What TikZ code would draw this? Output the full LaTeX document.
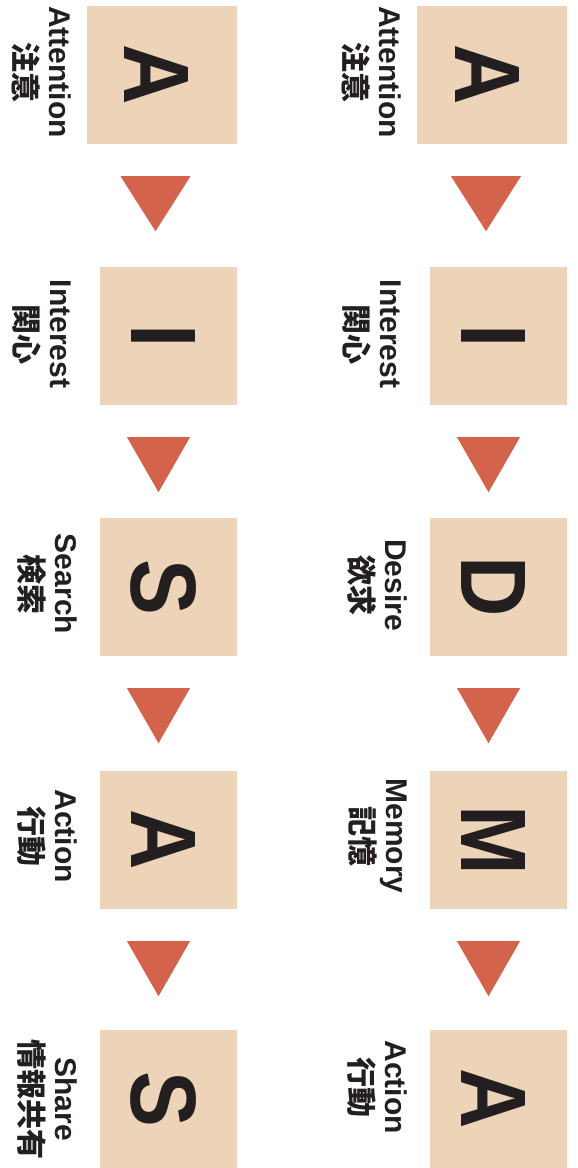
\documentclass[tikz,border=0pt]{standalone}
\usepackage{fontspec}
\setmainfont{Liberation Sans}
\newfontfamily\cjk{Noto Sans CJK JP}
\newfontfamily\bigfont[FakeStretch=0.9]{Liberation Sans}
\usetikzlibrary{positioning,shapes.geometric}
\definecolor{peach}{HTML}{EDD3B8}
\definecolor{rust}{HTML}{D4634B}
\definecolor{ink}{HTML}{231F20}
\tikzset{
  card/.style={draw=none, fill=peach, inner sep=0pt, minimum width=137pt, minimum height=138pt},
  wcard/.style={card, minimum width=150pt},
  letter/.style={rotate=-90, inner sep=0pt, text=ink, font=\bigfont\bfseries\fontsize{93pt}{93pt}\selectfont},
  lab/.style={rotate=-90, anchor=north, inner sep=0pt, align=center, text=ink,
    font=\bfseries\fontsize{30pt}{35pt}\selectfont},
  tri/.style={isosceles triangle, isosceles triangle stretches, fill=rust, draw=none, rotate=-90,
    anchor=apex, inner sep=0pt, outer sep=0pt, minimum width=63pt, minimum height=55pt},
  wtri/.style={tri, minimum width=70pt},   % 一段目だけ少し幅広
}
\newcommand{\jp}[1]{{\cjk #1}}

\begin{document}
\begin{tikzpicture}[x=1pt, y=-1pt]
  \useasboundingbox (0,0) rectangle (578,1168);
  % AIDMA (right)
  \node[wcard] (mA) at (492,75) {};
  \node[card] (mI) at (498.5,336) {};
  \node[card] (mD) at (498.5,587) {};
  \node[card] (mM) at (498.5,840) {};
  \node[card] (mAc) at (498.5,1099) {};
  \node[letter] (mAl) at ([xshift=-5pt]mA.center) {A};
  \node[letter] (mIl) at ([xshift=-5pt]mI.center) {I};
  \node[letter] (mDl) at ([xshift=-5pt]mD.center) {D};
  \node[letter] (mMl) at ([xshift=-5pt]mM.center) {M};
  \node[letter] (mAcl) at ([xshift=-5pt]mAc.center) {A};
  \node[lab] (mAt) at ([xshift=-15pt, yshift=3pt]mA.west) {Attention\\\jp{注意}};
  \node[lab] (mIt) at ([xshift=-28pt, yshift=2pt]mI.west) {Interest\\\jp{関心}};
  \node[lab] (mDt) at ([xshift=-22pt, yshift=2pt]mD.west) {Desire\\\jp{欲求}};
  \node[lab] (mMt) at ([xshift=-22pt, yshift=4pt]mM.west) {Memory\\\jp{記憶}};
  \node[lab] (mAct) at ([xshift=-22pt, yshift=12pt]mAc.west) {Action\\\jp{行動}};
  \node[wtri] (mt1) at ([xshift=-6pt, yshift=-87pt]mA.south) {};
  \node[tri] (mt2) at ([xshift=-10pt, yshift=-87pt]mI.south) {};
  \node[tri] (mt3) at ([xshift=-10pt, yshift=-87pt]mD.south) {};
  \node[tri] (mt4) at ([xshift=-10pt, yshift=-87pt]mM.south) {};

  % AISAS (left)
  \node[wcard] (sA) at (161.5,75) {};
  \node[card] (sI) at (168.5,336) {};
  \node[card] (sS) at (168.5,587) {};
  \node[card] (sAc) at (168.5,840) {};
  \node[card] (sSh) at (168.5,1099) {};
  \node[letter] (sAl) at ([xshift=-5pt]sA.center) {A};
  \node[letter] (sIl) at ([xshift=-5pt]sI.center) {I};
  \node[letter] (sSl) at ([xshift=-5pt]sS.center) {S};
  \node[letter] (sAcl) at ([xshift=-5pt]sAc.center) {A};
  \node[letter] (sShl) at ([xshift=-5pt]sSh.center) {S};
  \node[lab] (sAt) at ([xshift=-15pt, yshift=3pt]sA.west) {Attention\\\jp{注意}};
  \node[lab] (sIt) at ([xshift=-28pt, yshift=2pt]sI.west) {Interest\\\jp{関心}};
  \node[lab] (sSt) at ([xshift=-22pt, yshift=3pt]sS.west) {Search\\\jp{検索}};
  \node[lab] (sAct) at ([xshift=-22pt, yshift=4pt]sAc.west) {Action\\\jp{行動}};
  \node[lab] (sSht) at ([xshift=-22pt, yshift=0pt]sSh.west) {Share\\\jp{情報共有}};
  \node[wtri] (st1) at ([xshift=-6pt, yshift=-87pt]sA.south) {};
  \node[tri] (st2) at ([xshift=-10pt, yshift=-87pt]sI.south) {};
  \node[tri] (st3) at ([xshift=-10pt, yshift=-87pt]sS.south) {};
  \node[tri] (st4) at ([xshift=-10pt, yshift=-87pt]sAc.south) {};
\end{tikzpicture}
\end{document}
